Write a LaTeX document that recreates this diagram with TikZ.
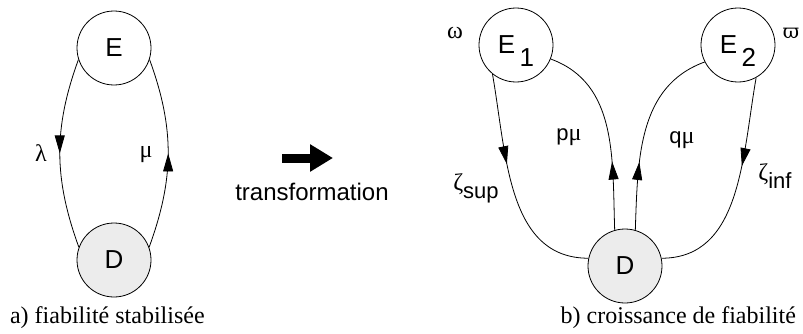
\documentclass[tikz,border=0pt]{standalone}
\usepackage{fontspec}
\setmainfont{Liberation Serif}
\setsansfont{Liberation Sans}
\newfontfamily\grk{Liberation Serif}
\newfontfamily\grkalt{DejaVu Serif}
\usetikzlibrary{arrows.meta,decorations.markings}

\tikzset{
  state/.style={circle,draw,minimum size=37pt,inner sep=0pt,
    font=\sffamily\fontsize{13}{15}\selectfont},
  downstate/.style={state,fill=gray!15},
  rate/.style={font=\sffamily\fontsize{11}{13}\selectfont},
  greek/.style={font=\grk\fontsize{12}{14}\selectfont},
  caption/.style={font=\rmfamily\fontsize{12}{14}\selectfont},
  midarrow/.style={postaction={decorate},decoration={markings,
    mark=at position #1 with {\arrow{Triangle[length=9pt,width=5pt]}}}},
}
\newcommand{\lowsub}[1]{\smash{\raisebox{-6.5pt}{\fontsize{13}{14}\selectfont #1}}}

\begin{document}
\begin{tikzpicture}[x=0.5pt,y=0.5pt]

    \useasboundingbox (0,0) rectangle (803,333);

    % a) stabilised reliability
    \node[state] (E) at (114,285) {E};
    \node[downstate] (D) at (114,73) {D};
    \draw[midarrow=0.5] (E.198) to[out=250,in=110] (D.160);
    \draw[midarrow=0.5] (D.20) to[out=70,in=290] (E.-18);
    \node[greek] (lambda) at (41,180) {λ};
    \node[greek] (mu) at (146,178) {μ};
    \node[caption,anchor=west] (capa) at (3,15) {a) fiabilité stabilisée};

    % transformation arrow
    \coordinate (tstart) at (282,175);
    \coordinate (tend) at (333,175);
    \draw[line width=4.5pt,-{Triangle[length=11.5pt,width=13pt]}] (tstart) -- (tend);
    \node[rate,font=\sffamily\fontsize{12}{14}\selectfont] (trans) at (312,141) {transformation};

    % b) reliability growth
    \node[state] (E1) at (516,288) {E\,\lowsub{1}};
    \node[state] (E2) at (738,288) {E\,\lowsub{2}};
    \node[downstate] (D2) at (625,67) {D};
    \draw[midarrow=0.4] (E1.231) to[out=280,in=180] (D2.168);
    \draw[midarrow=0.35] (D2.106) to[out=92,in=340] (E1.338);
    \draw[midarrow=0.35] (D2.74) to[out=88,in=200] (E2.207);
    \draw[midarrow=0.4] (E2.299) to[out=260,in=0] (D2.12);
    \node[rate] (zsup) at (476,145) {{\grk\fontsize{12}{14}\selectfont ζ}\raisebox{-4pt}{sup}};
    \node[rate] (pmu) at (569,196) {p{\grk\fontsize{12}{14}\selectfont μ}};
    \node[rate] (qmu) at (682,193) {q{\grk\fontsize{12}{14}\selectfont μ}};
    \node[rate] (zinf) at (775,157) {{\grk\fontsize{12}{14}\selectfont ζ}\raisebox{-4pt}{inf}};
    \node[greek] (omega) at (455,300) {ω};
    \node[greek,font=\grkalt\fontsize{10}{12}\selectfont] (varpi) at (791,300) {ϖ};
    \node[caption,anchor=east] (capb) at (803,15) {b) croissance de fiabilité};

\end{tikzpicture}
\end{document}
